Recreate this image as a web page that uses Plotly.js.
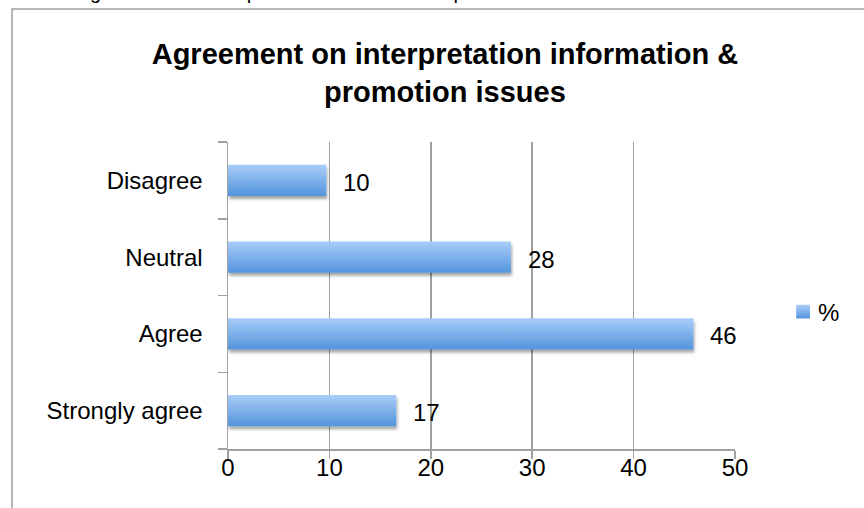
<!DOCTYPE html>
<html>
<head>
<meta charset="utf-8">
<script src="https://cdn.plot.ly/plotly-3.0.1.min.js"></script>
<style>
  html, body { margin: 0; padding: 0; background: #fff; }
  #chart { width: 864px; height: 508px; }
</style>
</head>
<body>
<div id="chart"></div>
<script>
// Data (bottom to top order for Plotly categorical y axis)
const categories = ['Strongly agree', 'Agree', 'Neutral', 'Disagree'];
const percentValues = [16.6, 45.9, 27.9, 9.7];
const valueLabels = ['17', '46', '28', '10'];
const xTickValues = [0, 10, 20, 30, 40, 50];
const seriesName = '%';
const chartTitle = 'Agreement on interpretation information &<br>promotion issues';
const captionText = 'Chart 5: Agreement on interpretation information & promotion';

const FONT = 'Arial, "Liberation Sans", Helvetica, sans-serif';
const gray = '#a0a0a0';
const TICK_SIZE = 24;

const trace = {
  type: 'bar',
  orientation: 'h',
  name: seriesName,
  x: percentValues,
  y: categories,
  width: 0.41,
  marker: { color: '#7fb0ea', line: { width: 0 } },
  hoverinfo: 'x+y'
};

const annotations = percentValues.map((v, i) => ({
  x: v, y: categories[i], xref: 'x', yref: 'y',
  text: valueLabels[i], showarrow: false,
  xanchor: 'left', yanchor: 'middle', xshift: 15, yshift: -2,
  font: { family: FONT, size: TICK_SIZE, color: '#000' }
}));

annotations.push({
  x: -0.452, xref: 'paper', xanchor: 'left',
  y: 1.445, yref: 'paper', yanchor: 'bottom',
  text: captionText, showarrow: false,
  font: { family: FONT, size: 20, color: '#000' }
});

const layout = {
  width: 864, height: 508,
  margin: { l: 228, r: 129, t: 142, b: 59, pad: 0 },
  paper_bgcolor: '#fff', plot_bgcolor: '#fff',
  font: { family: FONT, size: TICK_SIZE, color: '#000' },
  title: {
    text: chartTitle,
    font: { family: FONT, size: 29, color: '#000', weight: 'bold' },
    xref: 'container', x: 0.515, xanchor: 'center',
    yref: 'container', y: 1 - 64 / 508, yanchor: 'top'
  },
  xaxis: {
    range: [0, 50], tickvals: xTickValues, ticktext: xTickValues.map(String),
    showgrid: true, gridcolor: gray, gridwidth: 1.5,
    showline: true, linecolor: gray, linewidth: 1.5,
    ticks: 'outside', ticklen: 8, tickcolor: gray, tickwidth: 1.5,
    ticklabelstandoff: -11,
    zeroline: false, fixedrange: true,
    tickfont: { family: FONT, size: TICK_SIZE, color: '#000' }
  },
  yaxis: {
    type: 'category', categoryorder: 'array', categoryarray: categories,
    showgrid: false, showline: true, linecolor: gray, linewidth: 1.5,
    ticks: 'outside', ticklen: 9, tickcolor: gray, tickwidth: 1.5,
    tickson: 'boundaries', ticklabelstandoff: 19,
    zeroline: false, fixedrange: true,
    tickfont: { family: FONT, size: TICK_SIZE, color: '#000' }
  },
  showlegend: true,
  legend: {
    x: 1.085, xanchor: 'left', y: 0.446, yanchor: 'middle',
    font: { family: FONT, size: TICK_SIZE, color: '#000' },
    bgcolor: 'rgba(0,0,0,0)', itemwidth: 30
  },
  shapes: [{
    type: 'rect', xref: 'paper', yref: 'paper',
    x0: (12 - 228) / 507, x1: 1.6,
    y0: -0.5, y1: 1 + (142 - 9) / 307,
    line: { color: gray, width: 1.5 }, fillcolor: 'rgba(0,0,0,0)', layer: 'below'
  }],
  annotations: annotations,
  bargap: 0.59
};

function addGradient(gd) {
  const svg = gd.querySelector('svg.main-svg');
  let defs = svg.querySelector('defs');
  if (!defs) { defs = document.createElementNS('http://www.w3.org/2000/svg', 'defs'); svg.insertBefore(defs, svg.firstChild); }
  if (!defs.querySelector('#barGrad')) {
    defs.insertAdjacentHTML('beforeend',
      '<linearGradient id="barGrad" x1="0" y1="0" x2="0" y2="1">' +
      '<stop offset="0" stop-color="#aacdf9"/>' +
      '<stop offset="1" stop-color="#5294dc"/>' +
      '</linearGradient>' +
      '<filter id="barShadow" x="-5%" y="-20%" width="110%" height="160%">' +
      '<feDropShadow dx="1" dy="3" stdDeviation="1.8" flood-color="#000" flood-opacity="0.35"/>' +
      '</filter>');
  }
  gd.querySelectorAll('.barlayer .point path').forEach(p => {
    p.style.fill = 'url(#barGrad)';
    p.setAttribute('filter', 'url(#barShadow)');
  });
  gd.querySelectorAll('.legend .legendpoints path').forEach(p => {
    p.style.fill = 'url(#barGrad)';
    if (!p.hasAttribute('data-orig-tf')) p.setAttribute('data-orig-tf', p.getAttribute('transform') || '');
    p.setAttribute('transform', p.getAttribute('data-orig-tf') + ' translate(5,0) scale(1.15)');
  });
}

const gd = document.getElementById('chart');
Plotly.newPlot(gd, [trace], layout, { displayModeBar: false, staticPlot: true }).then(() => {
  addGradient(gd);
  gd.on('plotly_afterplot', () => addGradient(gd));
});
</script>
</body>
</html>
